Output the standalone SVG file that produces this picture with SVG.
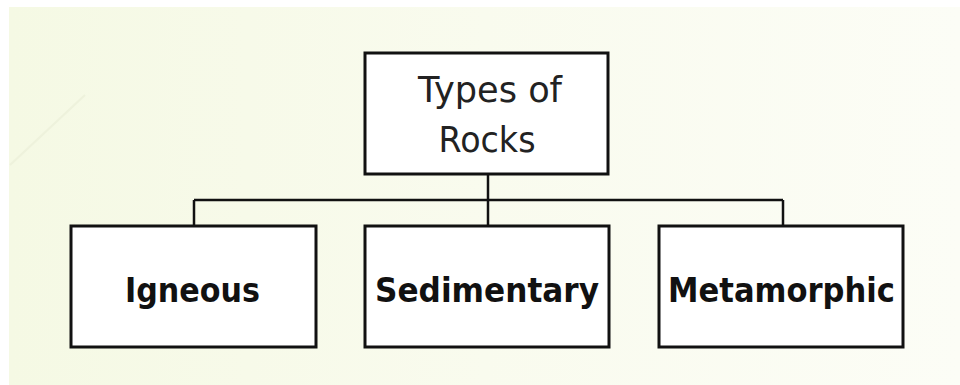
<svg xmlns="http://www.w3.org/2000/svg" width="960" height="385" viewBox="0 0 960 385">
  <defs>
    <linearGradient id="bg" x1="0" y1="0" x2="1" y2="0">
      <stop offset="0" stop-color="#f5f9e4"/>
      <stop offset="0.5" stop-color="#f9fbee"/>
      <stop offset="1" stop-color="#fcfdf6"/>
    </linearGradient>
  </defs>
  <style>
    .box { fill: #ffffff; stroke: #111111; stroke-width: 3; }
    .wire { fill: none; stroke: #111111; stroke-width: 2.5; }
    .title { font-family: "DejaVu Sans", "Liberation Sans", sans-serif; font-size: 35px; fill: #222222; text-anchor: middle; }
    .label { font-family: "DejaVu Sans", "Liberation Sans", sans-serif; font-size: 33px; font-weight: bold; fill: #111111; text-anchor: middle; }
  </style>

  <!-- page background with white margin strip -->
  <rect x="0" y="0" width="960" height="385" fill="#ffffff"/>
  <rect x="9" y="7" width="951" height="378" fill="url(#bg)"/>
  <line x1="10" y1="165" x2="85" y2="95" stroke="#eef2dc" stroke-width="2"/>

  <g id="connectors">
    <path class="wire" d="M488 174 V226"/>
    <path class="wire" d="M194 200 H783"/>
    <path class="wire" d="M194 200 V226"/>
    <path class="wire" d="M783 200 V226"/>
  </g>

  <g id="types-of-rocks">
    <rect class="box" x="365" y="53" width="243" height="121"/>
    <text class="title" x="490" y="102" textLength="144" lengthAdjust="spacingAndGlyphs">Types of</text>
    <text class="title" x="487" y="152" textLength="97" lengthAdjust="spacingAndGlyphs">Rocks</text>
  </g>

  <g id="igneous">
    <rect class="box" x="71" y="226" width="245" height="121"/>
    <text class="label" x="192.5" y="302" textLength="135" lengthAdjust="spacingAndGlyphs">Igneous</text>
  </g>

  <g id="sedimentary">
    <rect class="box" x="365" y="226" width="244" height="121"/>
    <text class="label" x="487" y="302" textLength="224" lengthAdjust="spacingAndGlyphs">Sedimentary</text>
  </g>

  <g id="metamorphic">
    <rect class="box" x="659" y="226" width="244" height="121"/>
    <text class="label" x="781.5" y="302" textLength="227" lengthAdjust="spacingAndGlyphs">Metamorphic</text>
  </g>
</svg>
